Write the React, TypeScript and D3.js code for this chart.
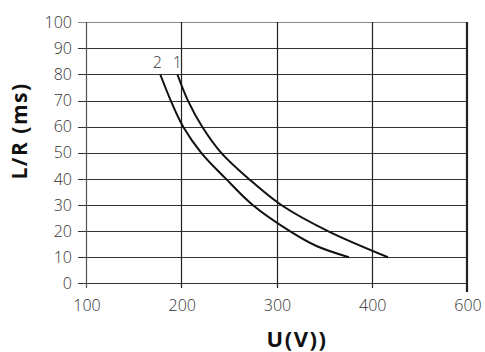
import React from "react";
import * as d3 from "d3";

const xTickValues = [100, 200, 300, 400, 500];
const xTickLabels = ["100", "200", "300", "400", "600"];
const yTickValues = [0, 10, 20, 30, 40, 50, 60, 70, 80, 90, 100];

const curve1U = [196, 207, 222, 242, 271, 305, 354, 417];
const curve1LR = [80, 70, 60, 50, 40, 30, 20, 10];
const curve2U = [178, 189, 202, 221, 247, 275, 314, 342, 376];
const curve2LR = [80, 70, 60, 50, 40, 30, 20, 14.3, 10];

const seriesNames = ["1", "2"];

export default function App() {
  const W = 485, H = 352;
  const x = d3.scaleLinear().domain([100, 500]).range([86, 467]);
  const y = d3.scaleLinear().domain([0, 100]).range([283.3, 22.3]);
  const line = d3
    .line<[number, number]>()
    .x((d) => x(d[0]))
    .y((d) => y(d[1]))
    .curve(d3.curveCatmullRom.alpha(0.5));
  const c1 = curve1U.map((u, i) => [u, curve1LR[i]] as [number, number]);
  const c2 = curve2U.map((u, i) => [u, curve2LR[i]] as [number, number]);
  const font = "'Open Sans', 'Lato', sans-serif";
  return (
    <svg
      width={W}
      height={H}
      style={{ position: "absolute", left: 0, top: 0, background: "#fff" }}
    >
      {yTickValues.map((v) => (
        <line
          key={"h" + v}
          x1={78}
          x2={467}
          y1={Math.round(y(v)) + 0.5}
          y2={Math.round(y(v)) + 0.5}
          stroke={v === 100 ? "#888" : "#333"}
          strokeWidth={1.2}
        />
      ))}
      {xTickValues.map((v, i) =>
        i === xTickValues.length - 1 ? (
          <line
            key={"v" + v}
            x1={x(v)}
            x2={x(v)}
            y1={22}
            y2={292}
            stroke="#222"
            strokeWidth={2.2}
          />
        ) : (
          <line
            key={"v" + v}
            x1={Math.round(x(v)) + 0.5}
            x2={Math.round(x(v)) + 0.5}
            y1={22}
            y2={288}
            stroke={i === 0 ? "#555" : "#222"}
            strokeWidth={1.2}
          />
        )
      )}
      {yTickValues.map((v) => (
        <text
          key={"yl" + v}
          x={72}
          y={y(v)}
          dy="0.35em"
          textAnchor="end"
          fontFamily={font}
          fontWeight={300}
          fontSize={16}
          fill="#333"
        >
          {v}
        </text>
      ))}
      {xTickValues.map((v, i) => (
        <text
          key={"xl" + v}
          x={x(v) + 1}
          y={311}
          textAnchor="middle"
          fontFamily={font}
          fontWeight={300}
          fontSize={16}
          fill="#333"
        >
          {xTickLabels[i]}
        </text>
      ))}
      <path d={line(c1) || ""} fill="none" stroke="#111" strokeWidth={2} />
      <path d={line(c2) || ""} fill="none" stroke="#111" strokeWidth={2} />
      <text
        x={x(curve1U[0])}
        y={68}
        textAnchor="middle"
        fontFamily={font}
        fontWeight={300}
        fontSize={16}
        fill="#333"
      >
        {seriesNames[0]}
      </text>
      <text
        x={x(curve2U[0]) - 3}
        y={68}
        textAnchor="middle"
        fontFamily={font}
        fontWeight={300}
        fontSize={16}
        fill="#333"
      >
        {seriesNames[1]}
      </text>
      <text
        transform="translate(27,131) rotate(-90)"
        textAnchor="middle"
        fontFamily={font}
        fontWeight={700}
        fontSize={21}
        letterSpacing={1.5}
        fill="#111"
      >
        L/R (ms)
      </text>
      <text
        x={297}
        y={347}
        textAnchor="middle"
        fontFamily={font}
        fontWeight={700}
        fontSize={22}
        letterSpacing={1.5}
        fill="#111"
      >
        U(V))
      </text>
    </svg>
  );
}
